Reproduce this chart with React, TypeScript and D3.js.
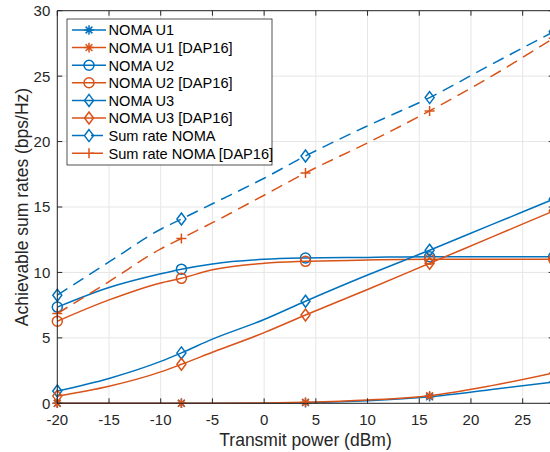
import * as d3 from 'd3';

// x positions of the samples (dBm) and the markers
const powers = [-20, -15, -10, -8, -5, 0, 4, 10, 16, 22, 28];
const markerPowers = [-20, -8, 4, 16, 28];

// rates in bps/Hz
const u1 = [0, 0, 0, 0, 0, 0.01, 0.05, 0.2, 0.5, 1.05, 1.63];
const u1Dap = [0, 0, 0, 0, 0, 0.02, 0.08, 0.25, 0.58, 1.35, 2.32];
const u2 = [7.35, 8.85, 9.9, 10.25, 10.65, 11.0, 11.1, 11.15, 11.2, 11.2, 11.2];
const u2Dap = [6.27, 7.9, 9.2, 9.55, 10.2, 10.7, 10.85, 10.95, 11.0, 11.0, 11.0];
const u3 = [0.94, 1.9, 3.2, 3.85, 4.9, 6.4, 7.8, 9.8, 11.7, 13.65, 15.6];
const u3Dap = [0.55, 1.3, 2.4, 2.98, 3.9, 5.4, 6.75, 8.7, 10.7, 12.7, 14.7];
const sum = [8.26, 10.8, 13.3, 14.08, 15.25, 17.2, 18.9, 21.2, 23.36, 25.9, 28.4];
const sumDap = [6.86, 9.3, 11.8, 12.6, 13.8, 15.9, 17.6, 19.9, 22.34, 25.0, 27.9];

const xTicks = [-20, -15, -10, -5, 0, 5, 10, 15, 20, 25];
const yTicks = [0, 5, 10, 15, 20, 25, 30];

const BLUE = '#0072BD';
const ORANGE = '#D95319';

type Marker = 'asterisk' | 'circle' | 'diamond' | 'plus';

const series: { name: string; values: number[]; color: string; marker: Marker; dashed: boolean }[] = [
  { name: 'NOMA U1', values: u1, color: BLUE, marker: 'asterisk', dashed: false },
  { name: 'NOMA U1 [DAP16]', values: u1Dap, color: ORANGE, marker: 'asterisk', dashed: false },
  { name: 'NOMA U2', values: u2, color: BLUE, marker: 'circle', dashed: false },
  { name: 'NOMA U2 [DAP16]', values: u2Dap, color: ORANGE, marker: 'circle', dashed: false },
  { name: 'NOMA U3', values: u3, color: BLUE, marker: 'diamond', dashed: false },
  { name: 'NOMA U3 [DAP16]', values: u3Dap, color: ORANGE, marker: 'diamond', dashed: false },
  { name: 'Sum rate NOMA', values: sum, color: BLUE, marker: 'diamond', dashed: true },
  { name: 'Sum rate NOMA [DAP16]', values: sumDap, color: ORANGE, marker: 'plus', dashed: true },
];

const W = 550;
const H = 452;
const FONT = "'Liberation Sans', Arial, Helvetica, sans-serif";
const AX = '#262626';

const MarkerShape = ({ type, x, y, color }: { type: Marker; x: number; y: number; color: string }) => {
  const p = { stroke: color, strokeWidth: 1.5, fill: 'none' };
  if (type === 'circle') return <circle cx={x} cy={y} r={5} {...p} />;
  if (type === 'diamond')
    return <path d={`M${x},${y - 6}L${x + 4.5},${y}L${x},${y + 6}L${x - 4.5},${y}Z`} {...p} />;
  if (type === 'plus')
    return <path d={`M${x - 5},${y}H${x + 5}M${x},${y - 5}V${y + 5}`} {...p} />;
  const r = 4.8;
  const d = 3.4;
  return (
    <path
      d={`M${x - r},${y}H${x + r}M${x},${y - r}V${y + r}M${x - d},${y - d}L${x + d},${y + d}M${x - d},${y + d}L${x + d},${y - d}`}
      {...p}
    />
  );
};

export default function App() {
  const x = d3.scaleLinear().domain([-20, 28]).range([57.3, 553.7]);
  const y = d3.scaleLinear().domain([0, 30]).range([403.3, 10.7]);
  const line = d3
    .line<number>()
    .x((_, i) => x(powers[i]))
    .y((d) => y(d))
    .curve(d3.curveMonotoneX);

  const [x0, x1] = x.range();
  const [y0, y1] = y.range();

  const legX = 67;
  const legY = 19;
  const legW = 205;
  const legH = 146;
  const rowH = 17.6;

  return (
    <svg width={W} height={H} style={{ position: 'absolute', left: 0, top: 0, background: '#fff' }} fontFamily={FONT}>
      <rect width={W} height={H} fill="#fff" />
      {/* grid */}
      {xTicks.map((t) => (
        <line key={'gx' + t} x1={x(t)} x2={x(t)} y1={y0} y2={y1} stroke="#e6e6e6" strokeWidth={1} />
      ))}
      {yTicks.map((t) => (
        <line key={'gy' + t} x1={x0} x2={x1} y1={y(t)} y2={y(t)} stroke="#e6e6e6" strokeWidth={1} />
      ))}

      {/* series */}
      {series.map((s) => (
        <g key={s.name}>
          <path
            d={line(s.values) ?? ''}
            fill="none"
            stroke={s.color}
            strokeWidth={1.5}
            strokeDasharray={s.dashed ? '12,7' : undefined}
          />
          {markerPowers.map((p) => (
            <MarkerShape key={p} type={s.marker} x={x(p)} y={y(s.values[powers.indexOf(p)])} color={s.color} />
          ))}
        </g>
      ))}

      {/* axes box */}
      <line x1={x0} x2={x0} y1={y0} y2={y1} stroke={AX} strokeWidth={1} />
      <line x1={x0} x2={x1} y1={y0} y2={y0} stroke={AX} strokeWidth={1} />
      <line x1={x0} x2={x1} y1={y1} y2={y1} stroke={AX} strokeWidth={1} />
      <line x1={x1} x2={x1} y1={y0} y2={y1} stroke={AX} strokeWidth={1} />
      {xTicks.map((t) => (
        <g key={'tx' + t}>
          <line x1={x(t)} x2={x(t)} y1={y0} y2={y0 - 5} stroke={AX} />
          <line x1={x(t)} x2={x(t)} y1={y1} y2={y1 + 5} stroke={AX} />
          <text x={x(t)} y={y0 + 21.7} textAnchor="middle" fontSize={15} fill={AX}>
            {t}
          </text>
        </g>
      ))}
      {yTicks.map((t) => (
        <g key={'ty' + t}>
          <line x1={x0} x2={x0 + 5} y1={y(t)} y2={y(t)} stroke={AX} />
          <line x1={x1} x2={x1 - 5} y1={y(t)} y2={y(t)} stroke={AX} />
          <text x={x0 - 7} y={y(t) + 5.4} textAnchor="end" fontSize={15} fill={AX}>
            {t}
          </text>
        </g>
      ))}

      <text x={(x0 + x1) / 2} y={446} textAnchor="middle" fontSize={17.5} fill={AX}>
        Transmit power (dBm)
      </text>
      <text
        transform={`translate(27.5, ${(y0 + y1) / 2}) rotate(-90)`}
        textAnchor="middle"
        fontSize={17.5}
        fill={AX}
      >
        Achievable sum rates (bps/Hz)
      </text>

      {/* legend */}
      <rect x={legX} y={legY} width={legW} height={legH} fill="#fff" stroke={AX} strokeWidth={0.8} />
      {series.map((s, i) => {
        const cy = legY + 11 + i * rowH;
        return (
          <g key={'l' + s.name}>
            <line
              x1={legX + 5}
              x2={legX + 39}
              y1={cy}
              y2={cy}
              stroke={s.color}
              strokeWidth={1.5}
              strokeDasharray={s.dashed ? '12,7' : undefined}
            />
            <MarkerShape type={s.marker} x={legX + 22} y={cy} color={s.color} />
            <text x={legX + 41.5} y={cy + 5.3} fontSize={14.6} fill="#000">
              {s.name}
            </text>
          </g>
        );
      })}
    </svg>
  );
}
